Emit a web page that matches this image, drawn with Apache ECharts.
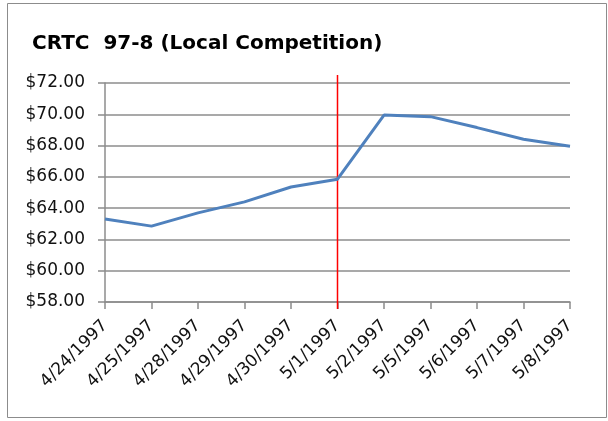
<!DOCTYPE html>
<html>
<head>
<meta charset="utf-8">
<script src="https://cdn.jsdelivr.net/npm/echarts@6/dist/echarts.min.js"></script>
<style>
html,body{margin:0;padding:0;background:#fff;}
#c{width:608px;height:421px;}
</style>
</head>
<body>
<div id="c"></div>
<script>
const titleText = 'CRTC  97-8 (Local Competition)';
const categories = ['4/24/1997','4/25/1997','4/28/1997','4/29/1997','4/30/1997','5/1/1997','5/2/1997','5/5/1997','5/6/1997','5/7/1997','5/8/1997'];
const prices = [63.3, 62.85, 63.7, 64.4, 65.35, 65.85, 69.95, 69.85, 69.15, 68.4, 67.95];
const markerDate = '5/1/1997';
const yMin = 58, yMax = 72, yStep = 2;

const FONT = 'DejaVu Sans';
const chart = echarts.init(document.getElementById('c'), null, {renderer:'canvas'});
chart.setOption({
  backgroundColor:'#fff',
  animation:false,
  graphic:[{
    type:'rect', shape:{x:7.5,y:3.5,width:599,height:414},
    style:{fill:'none', stroke:'#8c8c8c', lineWidth:1}, silent:true, z:-1
  }],
  title:{
    text:titleText, left:27, top:29,
    textStyle:{fontFamily:FONT, fontWeight:'bold', fontSize:20, color:'#000'}
  },
  grid:[
    {left:105, right:38, top:83, bottom:119},
    {left:105, right:38, top:75, bottom:112}
  ],
  xAxis:[{
    type:'category', data:categories, boundaryGap:false, gridIndex:0,
    axisLine:{lineStyle:{color:'#8c8c8c', width:1.5}},
    axisTick:{show:true, inside:false, length:7, alignWithLabel:true, lineStyle:{color:'#8c8c8c', width:1.5}},
    axisLabel:{rotate:45, interval:0, margin:21, fontFamily:FONT, fontSize:17, color:'#111'},
    splitLine:{show:false}
  },{
    type:'category', data:categories, boundaryGap:false, gridIndex:1, show:false
  }],
  yAxis:[{
    type:'value', min:yMin, max:yMax, interval:yStep, gridIndex:0,
    axisLine:{show:true, lineStyle:{color:'#8c8c8c', width:1.5}},
    axisTick:{show:true, inside:false, length:7, lineStyle:{color:'#8c8c8c', width:1.5}},
    axisLabel:{margin:20, fontFamily:FONT, fontSize:17, color:'#111',
      formatter:v=>'$'+v.toFixed(2)},
    splitLine:{show:true, lineStyle:{color:'#8c8c8c', width:1.5}}
  },{
    type:'value', min:0, max:1, gridIndex:1, show:false
  }],
  series:[{
    type:'line', data:prices, xAxisIndex:0, yAxisIndex:0,
    showSymbol:false, symbol:'none',
    lineStyle:{color:'#4f81bd', width:3}, z:5
  },{
    type:'line', xAxisIndex:1, yAxisIndex:1,
    data:[[markerDate,0],[markerDate,1]],
    showSymbol:false, symbol:'none',
    lineStyle:{color:'#ff0000', width:1.5}, z:4
  }]
});
</script>
</body>
</html>
